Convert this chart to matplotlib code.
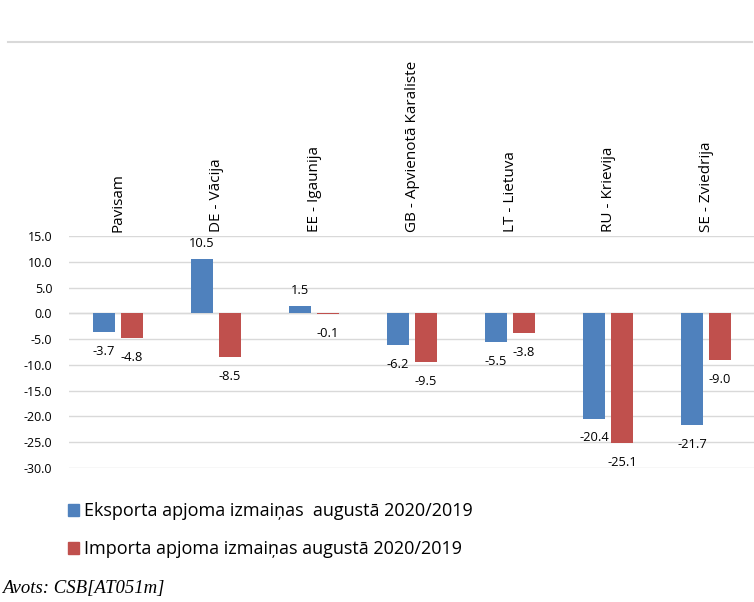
import matplotlib
matplotlib.use('Agg')
import matplotlib.pyplot as plt
import numpy as np
from matplotlib.patches import Patch
from matplotlib.lines import Line2D

categories = ['Pavisam', 'DE - Vācija', 'EE - Igaunija', 'GB - Apvienotā Karaliste',
              'LT - Lietuva', 'RU - Krievija', 'SE - Zviedrija']
export_vals = [-3.7, 10.5, 1.5, -6.2, -5.5, -20.4, -21.7]
import_vals = [-4.8, -8.5, -0.1, -9.5, -3.8, -25.1, -9.0]
series_names = ['Eksporta apjoma izmaiņas  augustā 2020/2019',
                'Importa apjoma izmaiņas augustā 2020/2019']
yticks = [15, 10, 5, 0, -5, -10, -15, -20, -25, -30]

BLUE = '#4F81BD'
RED = '#C0504D'
GRID = '#d9d9d9'
FONT = 'Open Sans'

fig = plt.figure(figsize=(7.54, 6.02), dpi=100)
fig.patch.set_facecolor('white')

# thin rule across the top of the page
fig.add_artist(Line2D([0.01, 0.998], [1 - 42 / 602] * 2, color='#d9d9d9', lw=1.5))

ax = fig.add_axes([69 / 754, 1 - 468 / 602, 686 / 754, (468 - 236) / 602])
x = np.arange(len(categories))
w = 0.22
off = 0.143
b1 = ax.bar(x - off, export_vals, w, color=BLUE, zorder=3)
b2 = ax.bar(x + off, import_vals, w, color=RED, zorder=3)

for bars, vals in ((b1, export_vals), (b2, import_vals)):
    for bar, v in zip(bars, vals):
        dy = 11 if v > 0 else -14
        ax.annotate(f'{v:.1f}', (bar.get_x() + bar.get_width() / 2, v),
                    xytext=(0, dy), textcoords='offset points',
                    ha='center', va='center', fontsize=9.3, family=FONT)

ax.set_xlim(-0.5, len(categories) - 0.5)
ax.set_ylim(-30, 15)
ax.set_yticks(yticks)
ax.set_yticklabels([f'{t:.1f}' for t in yticks], family=FONT, fontsize=9)
ax.yaxis.grid(True, color=GRID, lw=1, zorder=0)
ax.axhline(0, color=GRID, lw=1, zorder=1)
ax.tick_params(axis='y', length=0, pad=12)
ax.xaxis.tick_top()
ax.set_xticks(x)
ax.set_xticklabels(categories, rotation=90, family=FONT, fontsize=11, va='bottom')
ax.tick_params(axis='x', length=0, pad=3)
for s in ax.spines.values():
    s.set_visible(False)

handles = [Patch(color=BLUE), Patch(color=RED)]
fig.legend(handles, series_names, loc='upper left', bbox_to_anchor=(52 / 754, 1 - 486 / 602),
           frameon=False, prop={'family': FONT, 'size': 13},
           handlelength=0.6, handleheight=0.6, handletextpad=0.25, labelspacing=1.12)

fig.text(2 / 754, 1 - 588 / 602, 'Avots: CSB[AT051m]', family='Liberation Serif',
         style='italic', fontsize=13.5, ha='left', va='center')

plt.savefig('out.png', dpi=100)
